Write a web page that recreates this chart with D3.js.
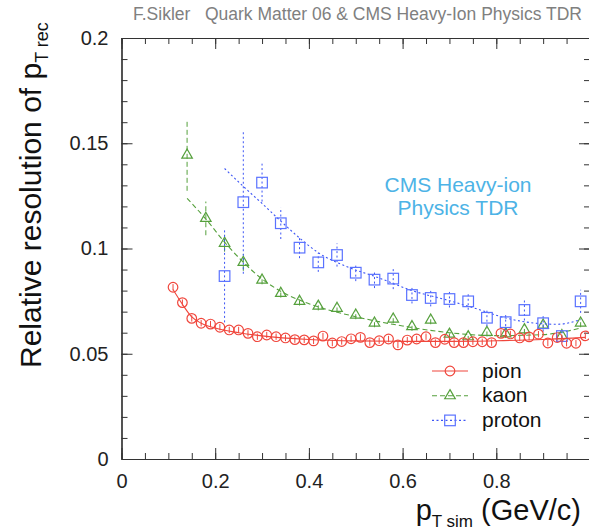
<!DOCTYPE html>
<html>
<head>
<meta charset="utf-8">
<script src="https://cdn.jsdelivr.net/npm/d3@7"></script>
<style>
  body { margin: 0; background: #fff; }
  text { font-family: "Liberation Sans", Arial, Helvetica, sans-serif; }
</style>
</head>
<body>
<div id="plot"></div>
<script>
// values
const pionPt = [0.11, 0.13, 0.15, 0.17, 0.19, 0.21, 0.23, 0.25, 0.27, 0.29, 0.31, 0.33, 0.35, 0.37, 0.39,
    0.41, 0.43, 0.45, 0.47, 0.49, 0.51, 0.53, 0.55, 0.57, 0.59, 0.61, 0.63, 0.65, 0.67, 0.69,
    0.71, 0.73, 0.75, 0.77, 0.79, 0.81, 0.83, 0.85, 0.87, 0.89, 0.91, 0.93, 0.95, 0.97, 0.99];
const pionRes = [0.0816, 0.0743, 0.0668, 0.0645, 0.0641, 0.0626, 0.0613, 0.0613, 0.0597, 0.0581, 0.0589, 0.0581, 0.0575, 0.0567, 0.0566,
    0.0561, 0.0584, 0.0551, 0.0558, 0.0571, 0.0578, 0.0553, 0.0562, 0.0570, 0.0542, 0.0565, 0.0570, 0.0581, 0.0553, 0.0569,
    0.0553, 0.0553, 0.0557, 0.0557, 0.0553, 0.0597, 0.0594, 0.0575, 0.0580, 0.0593, 0.0551, 0.0577, 0.0550, 0.0550, 0.0585];
const pionErr = [0.0015, 0.0015, 0.0015, 0.0015, 0.0015, 0.0015, 0.0015, 0.0015, 0.0015, 0.0015, 0.0015, 0.0015, 0.0015, 0.0015, 0.0015,
    0.0015, 0.0015, 0.0015, 0.0015, 0.0015, 0.0015, 0.0015, 0.0015, 0.0015, 0.0015, 0.0015, 0.0015, 0.0015, 0.0015, 0.0015,
    0.0015, 0.0015, 0.0015, 0.0015, 0.0015, 0.0015, 0.0015, 0.0015, 0.0015, 0.0015, 0.0015, 0.0015, 0.0015, 0.0015, 0.0015];

const kaonPt = [0.14, 0.18, 0.22, 0.26, 0.30, 0.34, 0.38, 0.42, 0.46, 0.50, 0.54,
    0.58, 0.62, 0.66, 0.70, 0.74, 0.78, 0.82, 0.86, 0.90, 0.94, 0.98];
const kaonRes = [0.1444, 0.1143, 0.1025, 0.0934, 0.0850, 0.0787, 0.0749, 0.0726, 0.0716, 0.0684, 0.0646,
    0.0665, 0.0629, 0.0660, 0.0593, 0.0581, 0.0602, 0.0595, 0.0614, 0.0636, 0.0586, 0.0646];
const kaonErr = [0.017, 0.008, 0.004, 0.004, 0.002, 0.002, 0.002, 0.002, 0.002, 0.002, 0.002,
    0.002, 0.002, 0.002, 0.002, 0.002, 0.002, 0.002, 0.002, 0.002, 0.002, 0.002];

const protonPt = [0.22, 0.26, 0.30, 0.34, 0.38, 0.42, 0.46, 0.50, 0.54, 0.58,
    0.62, 0.66, 0.70, 0.74, 0.78, 0.82, 0.86, 0.90, 0.94, 0.98];
const protonRes = [0.0869, 0.1220, 0.1313, 0.1120, 0.1004, 0.0934, 0.0969, 0.0885, 0.0852, 0.0857,
    0.0779, 0.0765, 0.0760, 0.0749, 0.0671, 0.0650, 0.0708, 0.0645, 0.0584, 0.0749];
const protonErr = [0.022, 0.034, 0.009, 0.0075, 0.005, 0.0045, 0.0055, 0.004, 0.004, 0.005,
    0.004, 0.004, 0.004, 0.004, 0.004, 0.004, 0.005, 0.004, 0.003, 0.0055];

// fitted curves
const pionFitPt = [0.11, 0.13, 0.15, 0.17, 0.20, 0.25, 0.30, 0.40, 0.50, 0.60, 0.70, 0.80, 0.90, 0.99];
const pionFitRes = [0.0805, 0.0735, 0.0675, 0.0645, 0.0622, 0.0600, 0.0585, 0.0568, 0.0561, 0.0559, 0.0559, 0.0562, 0.0568, 0.0578];
const kaonFitPt = [0.14, 0.18, 0.22, 0.26, 0.30, 0.35, 0.40, 0.50, 0.60, 0.70, 0.80, 0.90, 0.98];
const kaonFitRes = [0.1238, 0.1140, 0.1030, 0.0935, 0.0855, 0.0785, 0.0738, 0.0676, 0.0632, 0.0600, 0.0586, 0.0591, 0.0622];
const protonFitPt = [0.22, 0.26, 0.30, 0.34, 0.38, 0.42, 0.48, 0.55, 0.62, 0.70, 0.76, 0.82, 0.88, 0.93, 0.98];
const protonFitRes = [0.1380, 0.1295, 0.1214, 0.1130, 0.1050, 0.0980, 0.0915, 0.0860, 0.0800, 0.0752, 0.0712, 0.0670, 0.0646, 0.0640, 0.0662];

const xTicks = [0, 0.2, 0.4, 0.6, 0.8, 1.0];
const xLabels = ["0", "0.2", "0.4", "0.6", "0.8", ""];
const yTicks = [0, 0.05, 0.1, 0.15, 0.2];
const yLabels = ["0", "0.05", "0.1", "0.15", "0.2"];
const species = ["pion", "kaon", "proton"];

// canvas
const width = 589, height = 531;
const svg = d3.select("#plot")
    .append("svg")
    .attr("width", width)
    .attr("height", height);

const x = d3.scaleLinear().domain([0, 1]).range([121.5, 590]);
const y = d3.scaleLinear().domain([0, 0.2]).range([459, 38]);

const axisColor = "#333";
const xMinor = d3.range(0, 1.0001, 0.05);
const yMinor = d3.range(0, 0.2001, 0.01);

// axes: ticks point inwards on all four sides
function styleAxis(g) {
    g.select(".domain").attr("stroke", axisColor).attr("stroke-width", 1.2);
    g.selectAll(".tick line").attr("stroke", axisColor).attr("stroke-width", 1);
    g.selectAll(".tick text").attr("fill", "#222");
    g.attr("font-size", 20).attr("font-family", "Liberation Sans, Arial, sans-serif");
}

svg.append("g").attr("transform", "translate(0," + y(0) + ")")
    .call(d3.axisBottom(x).tickValues(xMinor).tickSize(-6).tickSizeOuter(0).tickFormat(""))
    .call(styleAxis);
svg.append("g").attr("transform", "translate(0," + y(0) + ")")
    .call(d3.axisBottom(x).tickValues(xTicks).tickSize(-11).tickSizeOuter(0).tickPadding(15)
        .tickFormat((d, i) => xLabels[i]))
    .call(styleAxis);
svg.append("g").attr("transform", "translate(0," + y(0.2) + ")")
    .call(d3.axisTop(x).tickValues(xMinor).tickSize(-6).tickSizeOuter(0).tickFormat(""))
    .call(styleAxis);
svg.append("g").attr("transform", "translate(0," + y(0.2) + ")")
    .call(d3.axisTop(x).tickValues(xTicks).tickSize(-11).tickSizeOuter(0).tickFormat(""))
    .call(styleAxis);

svg.append("g").attr("transform", "translate(" + x(0) + ",0)")
    .call(d3.axisLeft(y).tickValues(yMinor).tickSize(-6).tickSizeOuter(0).tickFormat(""))
    .call(styleAxis);
svg.append("g").attr("transform", "translate(" + x(0) + ",0)")
    .call(d3.axisLeft(y).tickValues(yTicks).tickSize(-11).tickSizeOuter(0).tickPadding(13)
        .tickFormat((d, i) => yLabels[i]))
    .call(styleAxis);
svg.append("g").attr("transform", "translate(" + x(1) + ",0)")
    .call(d3.axisRight(y).tickValues(yMinor).tickSize(-6).tickSizeOuter(0).tickFormat(""))
    .call(styleAxis);
svg.append("g").attr("transform", "translate(" + x(1) + ",0)")
    .call(d3.axisRight(y).tickValues(yTicks).tickSize(-11).tickSizeOuter(0).tickFormat(""))
    .call(styleAxis);

// series styles
const styles = {
    pion:   {color: "#f0463c", line: "#f0463c", dash: null},
    kaon:   {color: "#55a03c", line: "#55a03c", dash: "5,3"},
    proton: {color: "#5a72ff", line: "#3c55f5", dash: "2,2.5"}
};

function marker(g, name, cx, cy) {
    const c = styles[name].color;
    if (name === "pion") {
        g.append("circle").attr("cx", cx).attr("cy", cy).attr("r", 4.8)
            .attr("fill", "none").attr("stroke", c).attr("stroke-width", 1.2);
    } else if (name === "kaon") {
        g.append("path")
            .attr("d", d3.symbol(d3.symbolTriangle, 48)())
            .attr("transform", "translate(" + cx + "," + cy + ")")
            .attr("fill", "none").attr("stroke", c).attr("stroke-width", 1.2);
    } else {
        g.append("rect").attr("x", cx - 5.3).attr("y", cy - 5.3)
            .attr("width", 10.6).attr("height", 10.6)
            .attr("fill", "none").attr("stroke", c).attr("stroke-width", 1.2);
    }
}

const fitLine = d3.line()
    .x(d => x(d[0]))
    .y(d => y(d[1]))
    .curve(d3.curveMonotoneX);

function drawSeries(name, pt, res, err, fitPt, fitRes) {
    const st = styles[name];
    const g = svg.append("g").attr("class", name);
    const fit = fitPt.map((d, i) => [d, fitRes[i]]);
    g.append("path")
        .datum(fit)
        .attr("fill", "none")
        .attr("stroke", st.line)
        .attr("stroke-width", 1.1)
        .attr("stroke-dasharray", st.dash)
        .attr("d", fitLine);
    // error bars
    g.selectAll("line.err")
        .data(pt)
        .enter()
        .append("line")
        .attr("class", "err")
        .attr("x1", d => x(d))
        .attr("x2", d => x(d))
        .attr("y1", (d, i) => y(res[i] - err[i]))
        .attr("y2", (d, i) => y(res[i] + err[i]))
        .attr("stroke", st.line)
        .attr("stroke-width", 1)
        .attr("stroke-dasharray", st.dash);
    pt.forEach((d, i) => marker(g, name, x(d), y(res[i])));
}

drawSeries("kaon", kaonPt, kaonRes, kaonErr, kaonFitPt, kaonFitRes);
drawSeries("proton", protonPt, protonRes, protonErr, protonFitPt, protonFitRes);
drawSeries("pion", pionPt, pionRes, pionErr, pionFitPt, pionFitRes);

// legend
const legend = svg.append("g");
species.forEach((name, i) => {
    const ly = 371 + i * 24.7;
    const st = styles[name];
    legend.append("line")
        .attr("x1", 432).attr("x2", 468).attr("y1", ly).attr("y2", ly)
        .attr("stroke", st.line).attr("stroke-width", 1.1)
        .attr("stroke-dasharray", st.dash);
    marker(legend, name, 450, ly);
    legend.append("text")
        .attr("x", 482).attr("y", ly + 6.5)
        .attr("font-size", 21).attr("fill", "#111")
        .text(name);
});

// axis titles
const xTitle = svg.append("text")
    .attr("x", 581).attr("y", 520)
    .attr("text-anchor", "end")
    .attr("font-size", 29).attr("fill", "#111");
xTitle.append("tspan").text("p");
xTitle.append("tspan").attr("font-size", 17).attr("dy", 7).text("T sim");
xTitle.append("tspan").attr("dy", -7).text(" (GeV/c)");

const yTitle = svg.append("text")
    .attr("transform", "translate(41,368) rotate(-90)")
    .attr("font-size", 30).attr("fill", "#111");
yTitle.append("tspan").text("Relative resolution of p");
yTitle.append("tspan").attr("font-size", 18).attr("dy", 7).text("T rec");

// header and label
svg.append("text")
    .attr("x", 133).attr("y", 20)
    .attr("font-size", 17.5).attr("fill", "#808080")
    .style("white-space", "pre")
    .text("F.Sikler   Quark Matter 06 & CMS Heavy-Ion Physics TDR");

svg.append("text")
    .attr("x", 458).attr("y", 192)
    .attr("text-anchor", "middle")
    .attr("font-size", 21).attr("fill", "#4db3e6")
    .text("CMS Heavy-ion");
svg.append("text")
    .attr("x", 458).attr("y", 215)
    .attr("text-anchor", "middle")
    .attr("font-size", 21).attr("fill", "#4db3e6")
    .text("Physics TDR");
</script>
</body>
</html>
